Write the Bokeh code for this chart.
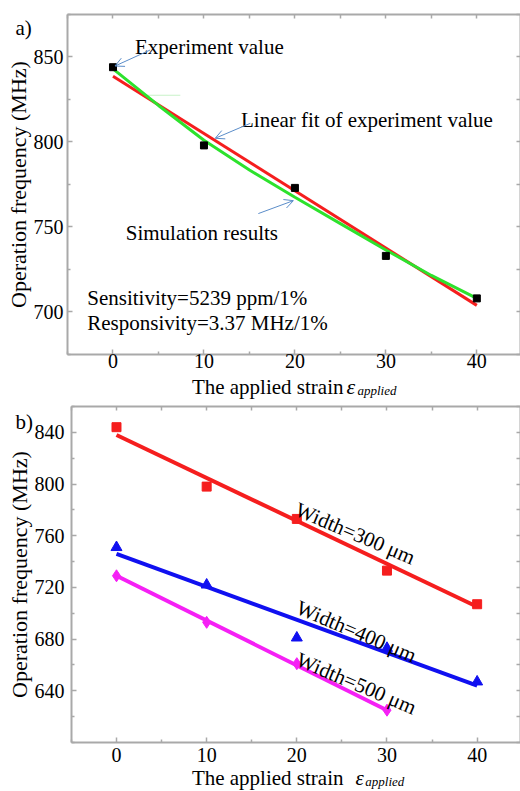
import math
from bokeh.plotting import figure
from bokeh.models import LinearAxis, Label, Arrow, OpenHead, Range1d, FixedTicker
from bokeh.layouts import column
from bokeh.embed import file_html
from bokeh.resources import INLINE

# ---------------- Panel a) data ----------------
strain_a = [0, 10, 20, 30, 40]
experiment_a = [844, 798, 773, 733, 708]
fit_a_x = [0, 40]
fit_a_y = [838.7, 703.9]
sim_x = [0, 5, 10, 15, 20, 25, 30, 35, 40]
sim_y = [843, 821.5, 801, 783.5, 767.5, 752, 736.5, 721.5, 708]
artifact_x = [3.7, 7.4]
artifact_y = [827.5, 827.5]
x_ticks = [0, 10, 20, 30, 40]
x_all_ticks = [-5, 0, 5, 10, 15, 20, 25, 30, 35, 40]
a_yticks = [700, 750, 800, 850]
a_all_yticks = [675, 700, 725, 750, 775, 800, 825, 850, 875]

# ---------------- Panel b) data ----------------
strain_b = [0, 10, 20, 30, 40]
w300 = [844, 798, 773, 733, 707]
w300_fit_x = [0, 40]
w300_fit_y = [838, 705]
w400 = [751, 722, 681, 673, 647]
w400_fit_x = [0, 40]
w400_fit_y = [746, 644]
strain_500 = [0, 10, 20, 30]
w500 = [729, 693, 661, 625]
w500_fit_x = [0, 30]
w500_fit_y = [729, 625]
b_yticks = [640, 680, 720, 760, 800, 840]
b_all_yticks = [600, 620, 640, 660, 680, 700, 720, 740, 760, 780, 800, 820, 840, 860]

FONT = "Liberation Serif"
GRAY = "#a9a9a9"
ARROW = "#5b8dc9"
RED = "#f51e1e"
GREEN = "#2de22d"
BLUE = "#1010f0"
MAGENTA = "#f520f5"

XL, XR = -5, 44.8  # box of the axes (data units)


def axis_common(ax):
    ax.axis_line_color = GRAY
    ax.axis_line_width = 2
    ax.major_tick_line_color = GRAY
    ax.minor_tick_line_color = GRAY
    ax.major_tick_line_width = 1.5
    ax.minor_tick_line_width = 1.5
    ax.major_tick_in = 5
    ax.major_tick_out = 0
    ax.minor_tick_in = 3
    ax.minor_tick_out = 0
    ax.major_label_text_font = FONT
    ax.major_label_text_font_size = "20px"
    ax.major_label_text_color = "black"


def build_axes(p, ylo, yhi, yt, yall, xstand, ystand):
    xminor = [t for t in x_all_ticks if t not in x_ticks]
    yminor = [t for t in yall if t not in yt]
    bottom = LinearAxis(ticker=FixedTicker(ticks=x_ticks, minor_ticks=xminor),
                        fixed_location=ylo, bounds=(XL, XR))
    left = LinearAxis(ticker=FixedTicker(ticks=yt, minor_ticks=yminor),
                      fixed_location=XL, bounds=(ylo, yhi))
    top = LinearAxis(ticker=FixedTicker(ticks=[], minor_ticks=x_all_ticks),
                     fixed_location=yhi, bounds=(XL, XR))
    right = LinearAxis(ticker=FixedTicker(ticks=[], minor_ticks=yall),
                       fixed_location=XR, bounds=(ylo, yhi))
    for ax in (bottom, left, top, right):
        axis_common(ax)
    for ax in (top, right):
        ax.minor_tick_in = 4
    bottom.major_label_standoff = xstand
    left.major_label_standoff = ystand
    left.axis_label = "Operation frequency (MHz)"
    left.axis_label_text_font = FONT
    left.axis_label_text_font_size = "22px"
    left.axis_label_text_font_style = "normal"
    left.axis_label_text_color = "black"
    left.axis_label_standoff = 0
    p.add_layout(bottom, "below")
    p.add_layout(left, "left")
    p.add_layout(top, "above")
    p.add_layout(right, "right")


def make_fig(h, xr, yr):
    p = figure(width=520, height=h, output_backend="svg", toolbar_location=None,
               x_range=Range1d(*xr), y_range=Range1d(*yr), x_axis_type=None, y_axis_type=None,
               min_border=0, min_border_left=0, min_border_right=0,
               min_border_top=0, min_border_bottom=0)
    p.xgrid.visible = False
    p.ygrid.visible = False
    p.outline_line_color = None
    p.background_fill_color = "white"
    p.border_fill_color = "white"
    return p


def lab(p, x, y, text, size="21px", style_="normal", align="left", angle=0.0):
    p.add_layout(Label(x=x, y=y, text=text, text_font=FONT, text_font_size=size,
                       text_font_style=style_, text_align=align,
                       text_baseline="alphabetic", text_color="black", angle=angle))


def arrow(p, xs, ys, xe, ye):
    p.add_layout(Arrow(end=OpenHead(size=9, line_color=ARROW, line_width=1),
                       x_start=xs, y_start=ys, x_end=xe, y_end=ye,
                       line_color=ARROW, line_width=1))


# ---------------- figure a ----------------
pa = make_fig(400, (-12.368, 44.80), (647.94, 883.235))
build_axes(pa, 675, 875, a_yticks, a_all_yticks, 0, 4)

pa.line(artifact_x, artifact_y, color="#c8f2c8", line_width=1)
pa.line(fit_a_x, fit_a_y, color=RED, line_width=3)
pa.line(sim_x, sim_y, color=GREEN, line_width=3)
pa.scatter(strain_a, experiment_a, marker="square", size=7, color="black")

lab(pa, 2.42, 855.9, "Experiment value")
arrow(pa, 4.08, 854.1, 0.22, 844.7)
lab(pa, 14.07, 812.8, "Linear fit of experiment value")
arrow(pa, 15.1, 811.0, 11.24, 802.2)
lab(pa, 1.4, 746.6, "Simulation results")
arrow(pa, 15.98, 757.9, 19.83, 765.5)
lab(pa, -2.83, 708.4, "Sensitivity=5239 ppm/1%")
lab(pa, -2.83, 693.6, "Responsivity=3.37 MHz/1%")
lab(pa, -10.72, 866.8, "a)")
lab(pa, 25.34, 656.0, "The applied strain", align="right")
lab(pa, 25.67, 656.0, "\u03b5", size="22px", style_="italic")
lab(pa, 26.88, 653.6, "applied", size="13px", style_="italic")

# ---------------- figure b ----------------
pb = make_fig(391, (-12.866, 44.81), (562.08, 864.643))
build_axes(pb, 600, 860, b_yticks, b_all_yticks, 6, 7)

pb.line(w300_fit_x, w300_fit_y, color=RED, line_width=4)
pb.scatter(strain_b, w300, marker="square", size=9, color=RED)
pb.line(w400_fit_x, w400_fit_y, color=BLUE, line_width=4)
pb.scatter(strain_b, w400, marker="triangle", size=11, color=BLUE)
pb.line(w500_fit_x, w500_fit_y, color=MAGENTA, line_width=4)
pb.scatter(strain_500, w500, marker="diamond", size=12, color=MAGENTA)

ang = -math.radians(23)
lab(pb, 19.96, 781.07, "Width=300 \u03bcm", angle=ang)
lab(pb, 20.08, 705.24, "Width=400 \u03bcm", angle=ang)
lab(pb, 20.08, 665.0, "Width=500 \u03bcm", angle=ang)
lab(pb, -11.2, 847.85, "b)")
lab(pb, 25.18, 572.14, "The applied strain", align="right")
lab(pb, 26.51, 572.14, "\u03b5", size="21px", style_="italic")
lab(pb, 27.6, 569.82, "applied", size="13px", style_="italic")

layout = column(pa, pb)
open("out.html", "w").write(file_html(layout, INLINE))
